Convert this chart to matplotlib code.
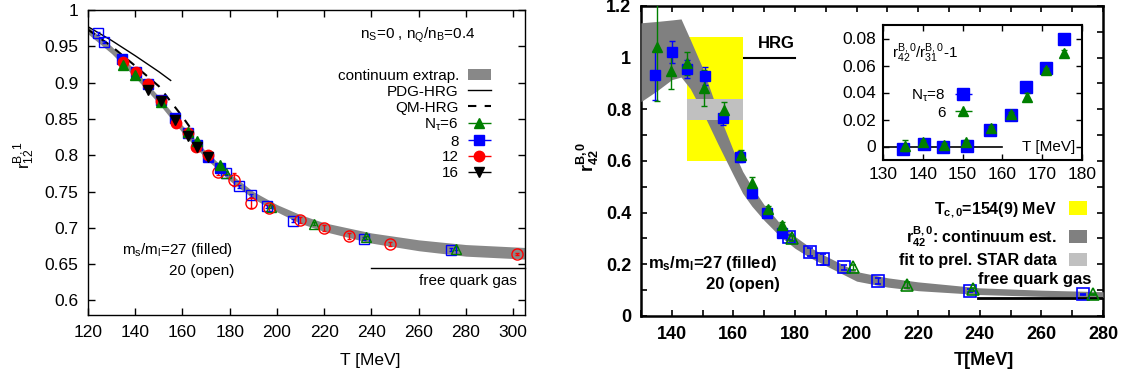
import matplotlib
matplotlib.use('Agg')
import matplotlib.pyplot as plt
import numpy as np
from matplotlib.patches import Patch
from matplotlib.lines import Line2D
from matplotlib.container import ErrorbarContainer
from matplotlib.legend_handler import HandlerErrorbar
from matplotlib.ticker import MultipleLocator, FuncFormatter

plt.rcParams['font.family'] = ['Liberation Sans', 'DejaVu Sans']
plt.rcParams['mathtext.fontset'] = 'custom'
plt.rcParams['mathtext.rm'] = 'Liberation Sans'
plt.rcParams['mathtext.it'] = 'Liberation Sans:italic'
plt.rcParams['mathtext.bf'] = 'Liberation Sans:bold'

GREEN = '#007f00'
BLUE = '#0000ff'
RED = '#ff0000'

# ---------------- left panel: r12^{B,1} ----------------
t_band_l = [120, 130, 140, 150, 160, 170, 180, 190, 200, 210, 220, 240, 260, 280, 305]
r12_band_mid = [0.972, 0.945, 0.912, 0.876, 0.836, 0.800, 0.770, 0.745, 0.727, 0.712,
                0.701, 0.686, 0.676, 0.669, 0.665]
r12_band_half = [0.005, 0.005, 0.005, 0.005, 0.005, 0.005, 0.005, 0.005, 0.005, 0.006,
                 0.006, 0.007, 0.0075, 0.008, 0.008]

t_pdg = [120, 130, 140, 150, 155]
r12_pdg = [0.977, 0.958, 0.937, 0.915, 0.903]
t_qm = [120, 130, 140, 150, 160, 165]
r12_qm = [0.973, 0.950, 0.923, 0.895, 0.853, 0.830]
t_fqg_l = [240, 305]
r12_fqg = [0.645, 0.645]

t6_l = [135.0, 140.0, 151.0, 162.3, 166.0, 175.9]
r12_6 = [0.924, 0.911, 0.873, 0.832, 0.819, 0.786]
t8_l = [134.5, 140.2, 145.3, 150.9, 156.8, 162.4, 166.0, 170.9, 175.8]
r12_8 = [0.932, 0.914, 0.898, 0.876, 0.851, 0.830, 0.814, 0.798, 0.782]
t12_l = [134.7, 140.5, 145.3, 150.9, 157.1, 162.2, 165.9, 170.7]
r12_12 = [0.929, 0.914, 0.898, 0.875, 0.845, 0.830, 0.812, 0.800]
t16_l = [145.3, 150.9, 157.0, 162.2, 166.0, 170.9]
r12_16 = [0.890, 0.875, 0.849, 0.827, 0.811, 0.798]

t8o_l = [124.4, 126.6, 178.5, 184.0, 188.8, 195.7, 206.8, 236.8, 273.8]
r12_8o = [0.968, 0.956, 0.775, 0.757, 0.745, 0.730, 0.710, 0.685, 0.670]
t6o_l = [178.3, 197.5, 215.5, 237.5, 275.9]
r12_6o = [0.776, 0.729, 0.706, 0.687, 0.671]
t12o_l = [175.2, 181.8, 189.2, 196.8, 209.8, 220.1, 230.3, 247.8, 301.5]
r12_12o = [0.777, 0.766, 0.734, 0.727, 0.711, 0.700, 0.689, 0.678, 0.664]
r12_12o_err = [0.004, 0.009, 0.007, 0.004, 0.004, 0.004, 0.004, 0.003, 0.002]

# ---------------- right panel: r42^{B,0} ----------------
t_band_r = [130, 135, 140, 143, 146, 150, 155, 160, 163, 166, 170, 175, 180, 185, 190,
            200, 210, 220, 240, 260, 280]
r42_lo = [0.830, 0.870, 0.915, 0.925, 0.880, 0.790, 0.665, 0.545, 0.475, 0.425, 0.370,
          0.310, 0.262, 0.225, 0.195, 0.135, 0.112, 0.098, 0.083, 0.076, 0.072]
r42_hi = [1.135, 1.140, 1.146, 1.150, 1.070, 0.960, 0.790, 0.640, 0.560, 0.500, 0.430,
          0.360, 0.308, 0.265, 0.232, 0.172, 0.148, 0.132, 0.109, 0.100, 0.094]

tc_range = [145, 163]
tc_r42 = [0.60, 1.08]
star_r42 = [0.76, 0.84]
t_hrg = [130, 180]
r42_hrg = [1.0, 1.0]
t_fqg_r = [239.5, 280]
r42_fqg = [0.071, 0.071]

t8_r = [134.4, 140.2, 144.9, 150.8, 156.7, 162.3, 165.9, 171.0, 175.7]
r42_8 = [0.932, 1.021, 0.955, 0.929, 0.765, 0.617, 0.475, 0.397, 0.320]
r42_8_err = [0.095, 0.042, 0.035, 0.033, 0.025, 0.022, 0.020, 0.015, 0.012]
t6_r = [135.2, 139.7, 144.9, 150.6, 157.0, 162.5, 166.0, 171.1, 175.8]
r42_6 = [1.043, 0.950, 0.978, 0.881, 0.797, 0.624, 0.514, 0.413, 0.352]
r42_6_err = [0.21, 0.07, 0.045, 0.07, 0.032, 0.02, 0.025, 0.012, 0.01]
t8o_r = [178.2, 184.9, 189.2, 195.9, 207.0, 236.8, 273.6]
r42_8o = [0.305, 0.249, 0.219, 0.188, 0.135, 0.098, 0.084]
r42_8o_err = [0.010, 0.015, 0.020, 0.010, 0.012, 0.006, 0.003]
t6o_r = [178.9, 198.9, 216.3, 237.9, 276.9]
r42_6o = [0.301, 0.188, 0.120, 0.103, 0.084]
r42_6o_err = [0.010, 0.010, 0.012, 0.006, 0.003]

# ---------------- inset: r42/r31 - 1 ----------------
t8_in = [134.9, 140.3, 145.0, 151.0, 156.9, 162.1, 165.9, 171.0, 175.5]
rat_8 = [-0.0022, 0.0022, -0.0003, 0.0002, 0.0120, 0.0237, 0.0440, 0.0578, 0.0798]
rat_8_err = [0.001, 0.001, 0.001, 0.001, 0.001, 0.001, 0.001, 0.001, 0.002]
t6_in = [135.5, 140.1, 145.3, 150.8, 157.1, 162.1, 166.1, 171.0, 175.6]
rat_6 = [0.0007, 0.0035, 0.0010, 0.0035, 0.0138, 0.0242, 0.0368, 0.0570, 0.0694]
rat_6_err = [0.004, 0.0015, 0.0015, 0.0015, 0.0015, 0.0015, 0.003, 0.0015, 0.002]
t_zero = [130, 160]
rat_zero = [0, 0]

gfmt = FuncFormatter(lambda v, p: '%g' % round(v, 4))

fig = plt.figure(figsize=(11.28, 3.8), dpi=100)
ax1 = fig.add_axes([88 / 1128, 65 / 380, 437 / 1128, 305 / 380])
ax2 = fig.add_axes([641 / 1128, 64 / 380, 462 / 1128, 310 / 380])
ax3 = fig.add_axes([883 / 1128, 220 / 380, 199 / 1128, 135 / 380])

# ===== left =====
mid = np.array(r12_band_mid)
half = np.array(r12_band_half)
ax1.fill_between(t_band_l, mid - half, mid + half, color='#888888', lw=0, zorder=1)
ax1.plot(t_pdg, r12_pdg, color='black', lw=1, zorder=4)
ax1.plot(t_qm, r12_qm, color='black', lw=1.5, ls=(0, (4, 4)), zorder=4)
ax1.plot(t_fqg_l, r12_fqg, color='black', lw=1, zorder=4, clip_on=False)

eb = dict(ls='none', capsize=1.5, elinewidth=1, zorder=5)
ax1.errorbar(t8o_l, r12_8o, yerr=0.002, marker='s', ms=7.5, mfc='none', mec=BLUE, mew=1, color=BLUE, **eb)
ax1.errorbar(t6o_l, r12_6o, yerr=0.002, marker='^', ms=7.5, mfc='none', mec=GREEN, mew=1, color=GREEN, **eb)
ax1.errorbar(t12o_l, r12_12o, yerr=r12_12o_err, marker='o', ms=8, mfc='none', mec=RED, mew=1, color=RED, **eb)
ax1.errorbar(t8_l, r12_8, yerr=0.002, marker='s', ms=7, color=BLUE, **eb)
ax1.errorbar(t12_l, r12_12, yerr=0.002, marker='o', ms=7.5, color=RED, **eb)
ax1.errorbar(t6_l, r12_6, yerr=0.002, marker='^', ms=7.5, color=GREEN, **eb)
ax1.errorbar(t16_l, r12_16, yerr=0.002, marker='v', ms=7.5, color='black', **eb)

ax1.set_xlim(120, 305)
ax1.set_ylim(0.58, 1.0)
ax1.xaxis.set_major_locator(MultipleLocator(20))
ax1.yaxis.set_major_locator(MultipleLocator(0.05))
ax1.yaxis.set_major_formatter(gfmt)
ax1.tick_params(direction='in', top=True, right=True, length=5, width=1, labelsize=12.5, pad=7)
for s in ax1.spines.values():
    s.set_linewidth(1)

ax1.text(-0.146, 0.525, r'$\mathregular{r^{B,1}_{12}}$', transform=ax1.transAxes, rotation=90,
         ha='center', va='center', fontsize=12.5)
ax1.text(0.647, -0.148, 'T [MeV]', transform=ax1.transAxes, ha='center', va='center', fontsize=12.5)
ax1.text(0.886, 0.918, r'$\mathregular{n_S}$=0 , $\mathregular{n_Q/n_B}$=0.4', transform=ax1.transAxes,
         ha='right', va='center', fontsize=11)
ax1.text(0.332, 0.213, r'$\mathregular{m_s/m_l}$=27 (filled)', transform=ax1.transAxes,
         ha='right', va='center', fontsize=11)
ax1.text(0.336, 0.145, '20 (open)', transform=ax1.transAxes, ha='right', va='center', fontsize=11)
ax1.text(0.982, 0.111, 'free quark gas', transform=ax1.transAxes, ha='right', va='center', fontsize=11)


def eb_handle(ax, marker, color, ms):
    return ax.errorbar([], [], xerr=[], marker=marker, ms=ms, color=color, ls='none',
                       capsize=2, elinewidth=1)


h_l = [Patch(facecolor='#888888', edgecolor='none'),
       Line2D([], [], color='black', lw=1),
       Line2D([], [], color='black', lw=1.5, ls=(0, (4, 4))),
       eb_handle(ax1, '^', GREEN, 7.5),
       eb_handle(ax1, 's', BLUE, 7.5),
       eb_handle(ax1, 'o', RED, 7.5),
       eb_handle(ax1, 'v', 'black', 7.5)]
lab_l = ['continuum extrap.', 'PDG-HRG', 'QM-HRG', r'$\mathregular{N_τ}$=6', '8', '12', '16']
leg1 = ax1.legend(h_l, lab_l, loc='upper right', bbox_to_anchor=(0.922, 0.807), frameon=False,
                  markerfirst=False, fontsize=11, borderpad=0, borderaxespad=0, labelspacing=0.12,
                  handlelength=1.5, handleheight=0.7, handletextpad=0.6,
                  handler_map={ErrorbarContainer: HandlerErrorbar(xerr_size=0.75)})

# ===== right =====
ax2.plot(t_hrg, r42_hrg, color='black', lw=1.5, zorder=1)
ax2.fill_between(tc_range, tc_r42[0], tc_r42[1], color='#ffff00', lw=0, zorder=2)
ax2.fill_between(t_band_r, r42_lo, r42_hi, color='#808080', lw=0, zorder=3)
ax2.fill_between(tc_range, star_r42[0], star_r42[1], color='#c0c0c0', lw=0, zorder=4)
ax2.plot(t_fqg_r, r42_fqg, color='black', lw=2, zorder=4)

eb2 = dict(ls='none', capsize=2, elinewidth=1, zorder=6)
ax2.errorbar(t8o_r, r42_8o, yerr=r42_8o_err, marker='s', ms=8, mfc='none', mec=BLUE, mew=1.2, color=BLUE, **eb2)
ax2.errorbar(t6o_r, r42_6o, yerr=r42_6o_err, marker='^', ms=8, mfc='none', mec=GREEN, mew=1.2, color=GREEN, **eb2)
ax2.errorbar(t8_r, r42_8, yerr=r42_8_err, marker='s', ms=7.5, color=BLUE, **eb2)
ax2.errorbar(t6_r, r42_6, yerr=r42_6_err, marker='^', ms=7.5, color=GREEN, **eb2)

ax2.set_xlim(130, 280)
ax2.set_ylim(0, 1.2)
ax2.xaxis.set_major_locator(MultipleLocator(20))
ax2.xaxis.set_minor_locator(MultipleLocator(10))
ax2.yaxis.set_major_locator(MultipleLocator(0.2))
ax2.yaxis.set_minor_locator(MultipleLocator(0.1))
ax2.yaxis.set_major_formatter(gfmt)
ax2.tick_params(which='both', direction='in', top=True, right=True, length=4, width=1.2,
                labelsize=13, pad=7)
for lab in ax2.get_xticklabels() + ax2.get_yticklabels():
    lab.set_fontweight('bold')
for s in ax2.spines.values():
    s.set_linewidth(1.8)

ax2.text(-0.115, 0.513, r'$\mathbf{r^{B,0}_{42}}$', transform=ax2.transAxes, rotation=90,
         ha='center', va='center', fontsize=13)
ax2.text(0.742, -0.145, 'T[MeV]', transform=ax2.transAxes, ha='center', va='center',
         fontsize=13, fontweight='bold')
ax2.text(180, 1.027, 'HRG', ha='right', va='bottom', fontsize=12, fontweight='bold', zorder=7)
ax2.text(239.5, 0.14, 'free quark gas', ha='left', va='center', fontsize=12, fontweight='bold', zorder=7)
ax2.text(0.294, 0.170, r'$\mathbf{m_s/m_l}$=27 (filled)', transform=ax2.transAxes,
         ha='right', va='center', fontsize=12, fontweight='bold')
ax2.text(0.301, 0.100, '20 (open)', transform=ax2.transAxes, ha='right', va='center',
         fontsize=12, fontweight='bold')

h_r = [Patch(facecolor='#ffff00', edgecolor='none'),
       Patch(facecolor='#808080', edgecolor='none'),
       Patch(facecolor='#c0c0c0', edgecolor='none')]
lab_r = [r'$\mathbf{T_{c,0}}$=154(9) MeV', r'$\mathbf{r^{B,0}_{42}}$: continuum est.',
         'fit to prel. STAR data']
ax2.legend(h_r, lab_r, loc='upper right', bbox_to_anchor=(0.965, 0.374), frameon=False,
           markerfirst=False, prop={'weight': 'bold', 'size': 11.5}, borderpad=0,
           borderaxespad=0, labelspacing=0.25, handlelength=1.1, handleheight=0.9,
           handletextpad=0.8)

# ===== inset =====
ax3.plot(t_zero, rat_zero, color='black', lw=1.2, zorder=1)
ax3.errorbar(t8_in, rat_8, yerr=rat_8_err, marker='s', ms=8, color=BLUE, ls='none', capsize=2,
             elinewidth=1, zorder=3)
ax3.errorbar(t6_in, rat_6, yerr=rat_6_err, marker='^', ms=7, color=GREEN, ls='none', capsize=2,
             elinewidth=1, zorder=4)
ax3.set_xlim(130, 180)
ax3.set_ylim(-0.01, 0.09)
ax3.xaxis.set_major_locator(MultipleLocator(10))
ax3.yaxis.set_major_locator(MultipleLocator(0.02))
ax3.yaxis.set_major_formatter(gfmt)
ax3.tick_params(direction='in', top=True, right=True, length=4, width=1, labelsize=12.5, pad=5)
for s in ax3.spines.values():
    s.set_linewidth(1.5)
ax3.text(0.045, 0.79, r'$\mathregular{r^{B,0}_{42}/r^{B,0}_{31}}$-1', transform=ax3.transAxes,
         ha='left', va='center', fontsize=11)
ax3.text(0.965, 0.099, 'T [MeV]', transform=ax3.transAxes, ha='right', va='center', fontsize=11)

h_in = [eb_handle(ax3, 's', BLUE, 8), eb_handle(ax3, '^', GREEN, 7)]
ax3.legend(h_in, [r'$\mathregular{N_τ}$=8', '6'], loc='upper right', bbox_to_anchor=(0.446, 0.54),
           frameon=False, markerfirst=False, fontsize=11, borderpad=0, borderaxespad=0,
           labelspacing=0.15, handlelength=1.1, handletextpad=0.6,
           handler_map={ErrorbarContainer: HandlerErrorbar(xerr_size=0.55)})

fig.savefig('out.png', dpi=100)
